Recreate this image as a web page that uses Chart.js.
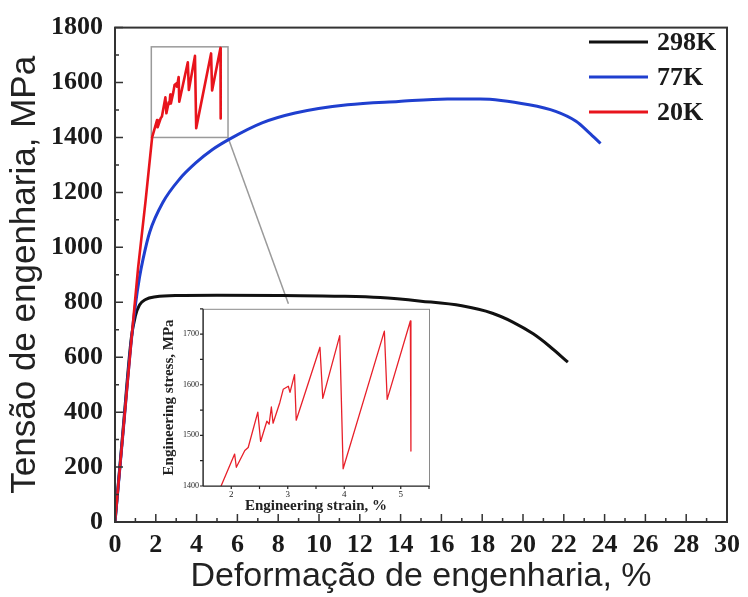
<!DOCTYPE html>
<html>
<head>
<meta charset="utf-8">
<script src="https://cdn.jsdelivr.net/npm/chart.js@4.4.1/dist/chart.umd.min.js"></script>
<style>
  html, body { margin: 0; padding: 0; background: #fff; }
  #wrap { position: relative; width: 748px; height: 597px; }
  #mainChart { position: absolute; left: 0; top: 0; }
  #insetChart { position: absolute; left: 160px; top: 300px; }
</style>
</head>
<body>
<div id="wrap">
  <canvas id="mainChart" width="748" height="597"></canvas>
  <canvas id="insetChart" width="280" height="215"></canvas>
</div>
<script>
// tensile curves, strain in %, stress in MPa
const seriesLabels = ['298K', '77K', '20K'];
const seriesColors = ['#111111', '#1f3fcf', '#e8141c'];

const strain298K = [0, 0.4, 0.8, 1.0, 1.2, 1.5, 2.0, 3.0, 5.0, 8.0, 11.0, 13.0, 15.0, 17.0, 18.5, 19.5, 20.5, 21.3, 22.2];
const stress298K = [0, 340, 670, 750, 790, 810, 820, 825, 826, 825, 822, 817, 804, 787, 760, 728, 685, 640, 582];

const strain77K = [0, 0.4, 0.8, 1.0, 1.2, 1.38, 1.7, 2.35, 3.16, 3.97, 4.78, 5.59, 7.21, 8.83, 11.4, 13.9, 16.3, 17.9, 20.3, 21.6, 22.6, 23.25, 23.8];
const stress77K = [0, 330, 660, 790, 890, 959, 1055, 1164, 1248, 1308, 1356, 1393, 1453, 1489, 1519, 1531, 1540, 1540, 1519, 1495, 1459, 1417, 1378];

const strain20K = [0, 0.4, 0.8, 1.13, 1.5, 1.82, 2.06, 2.09, 2.24, 2.30, 2.47, 2.52, 2.63, 2.67, 2.71, 2.74, 2.86, 2.92, 3.01, 3.04, 3.12, 3.15, 3.57, 3.62, 3.92, 3.98, 4.71, 4.76, 5.17, 5.18];
const stress20K = [0, 330, 660, 923, 1170, 1400, 1463, 1437, 1470, 1476, 1546, 1488, 1528, 1522, 1556, 1524, 1565, 1591, 1597, 1585, 1620, 1530, 1674, 1573, 1697, 1434, 1706, 1571, 1726, 1469];

const strainTicks = [0, 2, 4, 6, 8, 10, 12, 14, 16, 18, 20, 22, 24, 26, 28, 30];
const stressTicks = [0, 200, 400, 600, 800, 1000, 1200, 1400, 1600, 1800];
const insetStrainTicks = [2, 3, 4, 5];
const insetStressTicks = [1400, 1500, 1600, 1700];

// zoomed window shown in the inset
const zoomStrain = [1.78, 5.54];
const zoomStress = [1400, 1730];
const connectorEnd = [8.5, 795];

const serif = 'Liberation Serif, Times New Roman, serif';
const sans = 'Liberation Sans, Arial, sans-serif';

const toPoints = (xs, ys) => xs.map((x, i) => ({ x: x, y: ys[i] }));
const plainLabel = v => String(v);

// inward ticks + closed frame
const frameTicks = {
  id: 'frameTicks',
  afterDraw(chart) {
    const { ctx, chartArea: a, scales: { x, y } } = chart;
    ctx.save();
    ctx.strokeStyle = '#333';
    ctx.lineWidth = 1.5;
    ctx.beginPath();
    for (let v = 0; v <= 30; v += 1) {
      const px = x.getPixelForValue(v);
      ctx.moveTo(px, a.bottom);
      ctx.lineTo(px, a.bottom - (v % 2 === 0 ? 8 : 4));
    }
    for (let v = 0; v <= 1800; v += 100) {
      const py = y.getPixelForValue(v);
      ctx.moveTo(a.left, py);
      ctx.lineTo(a.left + (v % 200 === 0 ? 8 : 4), py);
    }
    ctx.stroke();
    ctx.lineWidth = 2;
    ctx.strokeRect(a.left, a.top, a.right - a.left, a.bottom - a.top);
    ctx.restore();
  }
};

// grey box around the zoomed part and its leader line
const zoomBox = {
  id: 'zoomBox',
  beforeDatasetsDraw(chart) {
    const { ctx, scales: { x, y } } = chart;
    const x0 = x.getPixelForValue(zoomStrain[0]), x1 = x.getPixelForValue(zoomStrain[1]);
    const y0 = y.getPixelForValue(zoomStress[1]), y1 = y.getPixelForValue(zoomStress[0]);
    ctx.save();
    ctx.strokeStyle = '#9a9a9a';
    ctx.lineWidth = 1.5;
    ctx.strokeRect(x0, y0, x1 - x0, y1 - y0);
    ctx.beginPath();
    ctx.moveTo(x1, y1);
    ctx.lineTo(x.getPixelForValue(connectorEnd[0]), y.getPixelForValue(connectorEnd[1]));
    ctx.stroke();
    ctx.restore();
  }
};

// legend in the upper right corner of the plot
const cornerLegend = {
  id: 'cornerLegend',
  afterDraw(chart) {
    const { ctx } = chart;
    ctx.save();
    ctx.font = 'bold 26px ' + serif;
    ctx.textBaseline = 'middle';
    ctx.fillStyle = '#1a1a1a';
    chart.data.datasets.forEach((ds, i) => {
      const yy = 42 + i * 35;
      ctx.strokeStyle = ds.borderColor;
      ctx.lineWidth = 3;
      ctx.beginPath();
      ctx.moveTo(589, yy);
      ctx.lineTo(648, yy);
      ctx.stroke();
      ctx.fillText(ds.label, 657, yy + 1);
    });
    ctx.restore();
  }
};

const mainData = [
  [strain298K, stress298K],
  [strain77K, stress77K],
  [strain20K, stress20K]
];

new Chart(document.getElementById('mainChart'), {
  type: 'scatter',
  data: {
    datasets: mainData.map((d, i) => ({
      label: seriesLabels[i],
      data: toPoints(d[0], d[1]),
      showLine: true,
      borderColor: seriesColors[i],
      backgroundColor: seriesColors[i],
      borderWidth: i === 2 ? 2.6 : 3,
      borderJoinStyle: 'round',
      pointRadius: 0,
      tension: 0,
      cubicInterpolationMode: i === 2 ? 'default' : 'monotone',
      order: 2 - i
    }))
  },
  options: {
    responsive: false,
    animation: false,
    devicePixelRatio: 1,
    layout: { padding: { top: 24, right: 16, left: 0, bottom: 0 } },
    plugins: { legend: { display: false }, tooltip: { enabled: false } },
    scales: {
      x: {
        type: 'linear', min: 0, max: 30,
        afterBuildTicks: s => { s.ticks = strainTicks.map(v => ({ value: v })); },
        afterFit: s => { s.height = 75; },
        grid: { display: false, drawTicks: false },
        border: { display: false },
        ticks: { color: '#1a1a1a', padding: 8, callback: plainLabel,
                 font: { family: serif, weight: 'bold', size: 26 } },
        title: { display: true, text: 'Deformação de engenharia, %', color: '#222',
                 padding: { top: 0, bottom: 0 }, font: { family: sans, size: 34 } }
      },
      y: {
        type: 'linear', min: 0, max: 1800,
        afterBuildTicks: s => { s.ticks = stressTicks.map(v => ({ value: v })); },
        afterFit: s => { s.width = 115; },
        grid: { display: false, drawTicks: false },
        border: { display: false },
        ticks: { color: '#1a1a1a', padding: 12, callback: plainLabel,
                 font: { family: serif, weight: 'bold', size: 26 } },
        title: { display: true, text: 'Tensão de engenharia, MPa', color: '#222',
                 padding: { top: 4, bottom: 0 }, font: { family: sans, size: 35 } }
      }
    }
  },
  plugins: [zoomBox, frameTicks, cornerLegend]
});

// inset: white panel, thin frame
const insetFrame = {
  id: 'insetFrame',
  beforeDraw(chart) {
    const { ctx, chartArea: a } = chart;
    ctx.save();
    ctx.fillStyle = '#fff';
    ctx.fillRect(a.left, a.top, a.right - a.left, a.bottom - a.top);
    ctx.restore();
  },
  afterDraw(chart) {
    const { ctx, chartArea: a, scales: { x, y } } = chart;
    ctx.save();
    ctx.strokeStyle = '#8a8a8a';
    ctx.lineWidth = 1;
    ctx.strokeRect(a.left + 0.5, a.top + 0.5, a.right - a.left, a.bottom - a.top);
    ctx.strokeStyle = '#222';
    ctx.lineWidth = 1.2;
    ctx.beginPath();
    ctx.moveTo(a.left, a.top);
    ctx.lineTo(a.left, a.bottom);
    ctx.lineTo(a.right, a.bottom);
    for (let v = 1400; v <= 1750; v += 50) {
      const py = y.getPixelForValue(v);
      ctx.moveTo(a.left - 3, py);
      ctx.lineTo(a.left, py);
    }
    for (let v = 2; v <= 5.5; v += 0.5) {
      const px = x.getPixelForValue(v);
      ctx.moveTo(px, a.bottom);
      ctx.lineTo(px, a.bottom + 3);
    }
    ctx.stroke();
    ctx.restore();
  }
};

new Chart(document.getElementById('insetChart'), {
  type: 'scatter',
  data: {
    datasets: [{
      label: seriesLabels[2],
      data: toPoints(strain20K, stress20K),
      showLine: true,
      borderColor: '#e8202a',
      borderWidth: 1.3,
      borderJoinStyle: 'round',
      pointRadius: 0,
      tension: 0
    }]
  },
  options: {
    responsive: false,
    animation: false,
    devicePixelRatio: 1,
    layout: { padding: { top: 5, right: 11, left: 0, bottom: 0 } },
    plugins: { legend: { display: false }, tooltip: { enabled: false } },
    scales: {
      x: {
        type: 'linear', min: 1.5, max: 5.5,
        afterBuildTicks: s => { s.ticks = insetStrainTicks.map(v => ({ value: v })); },
        afterFit: s => { s.height = 29; },
        grid: { display: false, drawTicks: false },
        border: { display: false },
        ticks: { color: '#222', padding: 3, callback: plainLabel, font: { family: serif, size: 9 } },
        title: { display: true, text: 'Engineering strain, %', color: '#222',
                 padding: { top: 0, bottom: 0 }, font: { family: serif, weight: 'bold', size: 15 } }
      },
      y: {
        type: 'linear', min: 1400, max: 1750,
        afterBuildTicks: s => { s.ticks = insetStressTicks.map(v => ({ value: v })); },
        afterFit: s => { s.width = 43; },
        grid: { display: false, drawTicks: false },
        border: { display: false },
        ticks: { color: '#222', padding: 4, callback: plainLabel, font: { family: serif, size: 8 } },
        title: { display: true, text: 'Engineering stress, MPa', color: '#222',
                 padding: { top: 0, bottom: 0 }, font: { family: serif, weight: 'bold', size: 15 } }
      }
    }
  },
  plugins: [insetFrame]
});
</script>
</body>
</html>
